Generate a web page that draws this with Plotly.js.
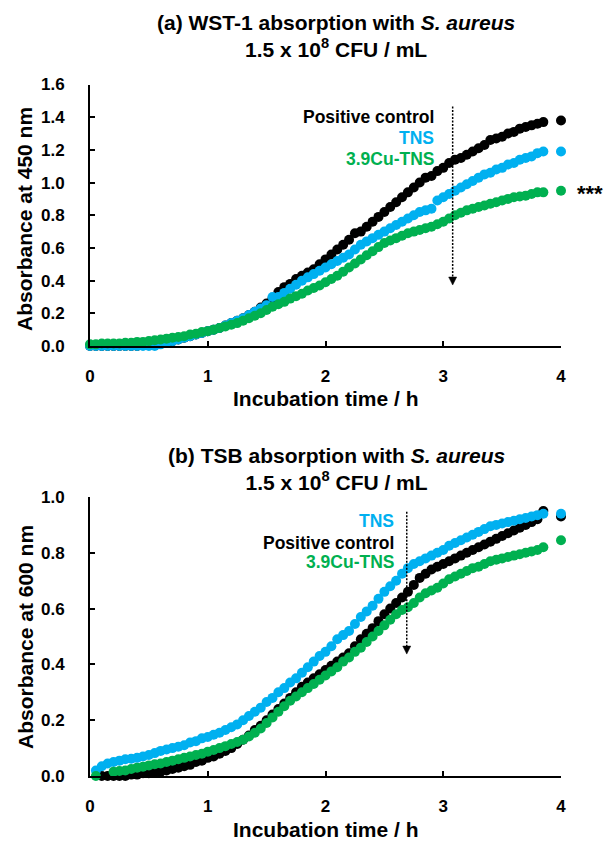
<!DOCTYPE html>
<html>
<head>
<meta charset="utf-8">
<script src="https://cdn.plot.ly/plotly-3.0.1.min.js"></script>
<style>
  html, body { margin: 0; padding: 0; background: #ffffff; }
  #chart { width: 608px; height: 843px; }
</style>
</head>
<body>
<div id="chart"></div>
<script>
// ---------------- DATA ----------------
const time = [0,0.05,0.1,0.15,0.2,0.25,0.3,0.35,0.4,0.45,
  0.5,0.55,0.6,0.65,0.7,0.75,0.8,0.85,0.9,0.95,
  1,1.05,1.1,1.15,1.2,1.25,1.3,1.35,1.4,1.45,
  1.5,1.55,1.6,1.65,1.7,1.75,1.8,1.85,1.9,1.95,
  2,2.05,2.1,2.15,2.2,2.25,2.3,2.35,2.4,2.45,
  2.5,2.55,2.6,2.65,2.7,2.75,2.8,2.85,2.9,2.95,
  3,3.05,3.1,3.15,3.2,3.25,3.3,3.35,3.4,3.45,
  3.5,3.55,3.6,3.65,3.7,3.75,3.8,3.85,4];

// (a) WST-1, absorbance at 450 nm
const wstPositive = [0.00,0.00,0.00,0.00,0.00,0.00,0.00,0.00,0.00,0.01,
  0.01,0.01,0.02,0.02,0.03,0.04,0.05,0.06,0.07,0.08,
  0.09,0.10,0.11,0.125,0.14,0.155,0.17,0.19,0.21,0.235,
  0.26,0.29,0.33,0.36,0.38,0.41,0.43,0.45,0.47,0.50,
  0.53,0.56,0.59,0.62,0.65,0.69,0.70,0.73,0.76,0.79,
  0.82,0.85,0.88,0.91,0.94,0.97,1.00,1.03,1.04,1.07,
  1.09,1.12,1.14,1.15,1.17,1.19,1.21,1.23,1.26,1.27,
  1.28,1.30,1.31,1.33,1.34,1.35,1.36,1.37,1.38];
const wstTNS = [0,0,0,0,0,0,0,0,0,0,
  0,0,0.01,0.02,0.03,0.04,0.05,0.06,0.07,0.08,
  0.09,0.10,0.11,0.125,0.14,0.155,0.17,0.19,0.21,0.23,
  0.25,0.30,0.30,0.325,0.35,0.375,0.40,0.42,0.44,0.46,
  0.48,0.50,0.52,0.54,0.56,0.59,0.62,0.64,0.66,0.68,
  0.70,0.72,0.74,0.76,0.78,0.80,0.82,0.83,0.84,0.89,
  0.91,0.93,0.95,0.97,0.99,1.01,1.03,1.05,1.06,1.08,
  1.09,1.11,1.12,1.14,1.15,1.16,1.18,1.19,1.19];
const wstCuTNS = [0.01,0.01,0.015,0.015,0.015,0.015,0.02,0.02,0.025,0.025,
  0.03,0.035,0.04,0.045,0.05,0.055,0.06,0.07,0.075,0.085,
  0.09,0.10,0.11,0.12,0.13,0.14,0.155,0.17,0.185,0.20,
  0.22,0.24,0.255,0.27,0.29,0.305,0.32,0.34,0.355,0.37,
  0.39,0.41,0.43,0.455,0.48,0.505,0.53,0.555,0.58,0.605,
  0.63,0.645,0.66,0.675,0.69,0.70,0.71,0.72,0.73,0.745,
  0.76,0.78,0.80,0.815,0.83,0.84,0.85,0.86,0.87,0.88,
  0.89,0.90,0.91,0.915,0.92,0.93,0.94,0.94,0.95];

// (b) TSB, absorbance at 600 nm
const tsbPositive = [null,null,0,0,0,0,0,0.005,0.005,0.01,
  0.01,0.015,0.015,0.02,0.025,0.03,0.035,0.04,0.05,0.055,
  0.065,0.07,0.08,0.09,0.10,0.115,0.13,0.145,0.165,0.18,
  0.20,0.22,0.24,0.26,0.28,0.30,0.32,0.335,0.35,0.365,
  0.38,0.395,0.41,0.425,0.44,0.465,0.49,0.51,0.53,0.555,
  0.58,0.60,0.62,0.64,0.66,0.685,0.71,0.725,0.74,0.75,
  0.76,0.77,0.78,0.79,0.80,0.81,0.82,0.83,0.84,0.85,
  0.86,0.87,0.88,0.89,0.90,0.91,0.92,0.95,0.93];
const tsbTNS = [null,0.02,0.035,0.045,0.05,0.055,0.06,0.062,0.065,0.07,
  0.075,0.082,0.09,0.095,0.10,0.105,0.11,0.12,0.125,0.135,
  0.14,0.148,0.155,0.165,0.175,0.185,0.20,0.215,0.23,0.245,
  0.265,0.28,0.30,0.315,0.335,0.35,0.37,0.39,0.41,0.43,
  0.445,0.465,0.49,0.505,0.52,0.545,0.57,0.59,0.61,0.635,
  0.66,0.68,0.70,0.725,0.745,0.76,0.77,0.78,0.79,0.80,
  0.81,0.825,0.835,0.845,0.855,0.865,0.875,0.885,0.895,0.90,
  0.905,0.91,0.915,0.92,0.925,0.93,0.935,0.94,0.94];
const tsbCuTNS = [null,0,null,null,0.015,0.018,0.02,0.025,0.03,0.033,
  0.038,0.042,0.045,0.05,0.055,0.06,0.065,0.07,0.075,0.08,
  0.087,0.093,0.10,0.107,0.115,0.122,0.13,0.142,0.155,0.17,
  0.19,0.21,0.23,0.25,0.27,0.285,0.30,0.315,0.33,0.345,
  0.36,0.375,0.39,0.41,0.425,0.445,0.46,0.48,0.50,0.52,
  0.54,0.56,0.58,0.595,0.605,0.62,0.64,0.655,0.665,0.675,
  0.69,0.705,0.715,0.725,0.735,0.745,0.75,0.76,0.77,0.775,
  0.78,0.785,0.79,0.795,0.80,0.805,0.81,0.82,0.845];

const seriesNames = ['Positive control', 'TNS', '3.9Cu-TNS'];
const xTicks = [0, 1, 2, 3, 4];
const yTicksA = [0, 0.2, 0.4, 0.6, 0.8, 1.0, 1.2, 1.4, 1.6];
const yTicksB = [0, 0.2, 0.4, 0.6, 0.8, 1.0];

// ---------------- STYLE ----------------
const COLORS = {pos: '#000000', tns: '#00B0F0', cu: '#00B050'};
const FONT = 'Liberation Sans, Arial, Helvetica, sans-serif';
const MS = 10;

function mk(y, color, name, xa, ya) {
  return {
    type: 'scatter', mode: 'markers', x: time, y: y, name: name,
    xaxis: xa, yaxis: ya, cliponaxis: false, showlegend: false,
    marker: {size: MS, color: color, line: {width: 0}},
    hoverinfo: 'skip'
  };
}

const data = [
  mk(wstPositive, COLORS.pos, seriesNames[0], 'x', 'y'),
  mk(wstTNS, COLORS.tns, seriesNames[1], 'x', 'y'),
  mk(wstCuTNS, COLORS.cu, seriesNames[2], 'x', 'y'),
  mk(tsbPositive, COLORS.pos, seriesNames[0], 'x2', 'y2'),
  mk(tsbTNS, COLORS.tns, seriesNames[1], 'x2', 'y2'),
  mk(tsbCuTNS, COLORS.cu, seriesNames[2], 'x2', 'y2')
];

const H = 843;
function py(pix) { return 1 - pix / H; }
function px(pix) { return (pix - 90) / 471; }

function xAxis(anchor) {
  return {
    anchor: anchor, domain: [0, 1], range: [0, 4],
    tickvals: xTicks, ticktext: xTicks.map(String),
    showline: true, linecolor: '#000', linewidth: 2,
    ticks: 'inside', ticklen: 5, tickwidth: 2, tickcolor: '#000',
    showgrid: false, zeroline: false, ticklabelstandoff: 14,
    tickfont: {family: FONT, size: 17, color: '#000', weight: 'bold'},
    fixedrange: true
  };
}
function yAxis(anchor, domain, range, ticks) {
  return {
    anchor: anchor, domain: domain, range: range,
    tickvals: ticks, ticktext: ticks.map(v => v.toFixed(1)),
    showline: true, linecolor: '#000', linewidth: 2,
    ticks: 'inside', ticklen: 5, tickwidth: 2, tickcolor: '#000',
    showgrid: false, zeroline: false, ticklabelstandoff: 20,
    tickfont: {family: FONT, size: 17, color: '#000', weight: 'bold'},
    fixedrange: true
  };
}

function txt(text, x, y, xref, yref, size, color, extra) {
  return Object.assign({
    text: text, x: x, y: y, xref: xref, yref: yref, showarrow: false,
    font: {family: FONT, size: size, color: color, weight: 'bold'},
    xanchor: 'center', yanchor: 'middle'
  }, extra || {});
}

const annotations = [
  // titles
  txt('<b>(a) WST-1 absorption with <i>S. aureus</i></b><br><b>1.5 x 10<sup>8</sup> CFU / mL</b>',
      px(336), py(36), 'paper', 'paper', 21, '#000'),
  txt('<b>(b) TSB absorption with <i>S. aureus</i></b><br><b>1.5 x 10<sup>8</sup> CFU / mL</b>',
      px(336), py(469), 'paper', 'paper', 21, '#000'),
  // axis titles
  txt('<b>Absorbance at 450 nm</b>', px(25), py(219), 'paper', 'paper', 21, '#000', {textangle: -90}),
  txt('<b>Incubation time / h</b>', 0.5, py(398), 'paper', 'paper', 21, '#000'),
  txt('<b>Absorbance at 600 nm</b>', px(25), py(637), 'paper', 'paper', 21, '#000', {textangle: -90}),
  txt('<b>Incubation time / h</b>', 0.5, py(829), 'paper', 'paper', 21, '#000'),
  // labels (a)
  txt('<b>Positive control</b>', 2.94, 1.403, 'x', 'y', 17.5, COLORS.pos, {xanchor: 'right'}),
  txt('<b>TNS</b>', 2.94, 1.271, 'x', 'y', 17.5, COLORS.tns, {xanchor: 'right'}),
  txt('<b>3.9Cu-TNS</b>', 2.94, 1.143, 'x', 'y', 17.5, COLORS.cu, {xanchor: 'right'}),
  txt('<b>***</b>', px(575), py(193), 'paper', 'paper', 22, '#000', {xanchor: 'left'}),
  // labels (b)
  txt('<b>TNS</b>', 2.6, 0.915, 'x2', 'y2', 17.5, COLORS.tns, {xanchor: 'right'}),
  txt('<b>Positive control</b>', 2.6, 0.836, 'x2', 'y2', 17.5, COLORS.pos, {xanchor: 'right'}),
  txt('<b>3.9Cu-TNS</b>', 2.6, 0.768, 'x2', 'y2', 17.5, COLORS.cu, {xanchor: 'right'})
];

function dottedLine(xr, yr, x, yTop, yBottom) {
  return {type: 'line', xref: xr, yref: yr, x0: x, x1: x, y0: yTop, y1: yBottom,
          line: {color: '#000', width: 1.5, dash: '2px,1.5px'}};
}
function headShape(xr, yr, x, yTip) {
  return {type: 'path', xref: xr, yref: yr, xsizemode: 'pixel', ysizemode: 'pixel',
          xanchor: x, yanchor: yTip, path: 'M-4,8L4,8L0,0Z',
          fillcolor: '#000', line: {color: '#000', width: 0.5}};
}

const shapes = [
  dottedLine('x', 'y', 3.08, 1.465, 0.40),
  headShape('x', 'y', 3.08, 0.373),
  dottedLine('x2', 'y2', 2.69, 0.947, 0.46),
  headShape('x2', 'y2', 2.69, 0.437)
];

const layout = {
  width: 608, height: 843, autosize: false,
  margin: {l: 90, r: 47, t: 0, b: 0, pad: 0},
  paper_bgcolor: '#fff', plot_bgcolor: '#fff',
  showlegend: false,
  font: {family: FONT, color: '#000'},
  xaxis: xAxis('y'),
  yaxis: yAxis('x', [py(346), py(84.5)], [0, 1.6], yTicksA),
  xaxis2: xAxis('y2'),
  yaxis2: yAxis('x2', [py(776), py(497)], [0, 1.0], yTicksB),
  annotations: annotations,
  shapes: shapes,
  hovermode: false
};

Plotly.newPlot('chart', data, layout, {displayModeBar: false, staticPlot: true});
</script>
</body>
</html>
